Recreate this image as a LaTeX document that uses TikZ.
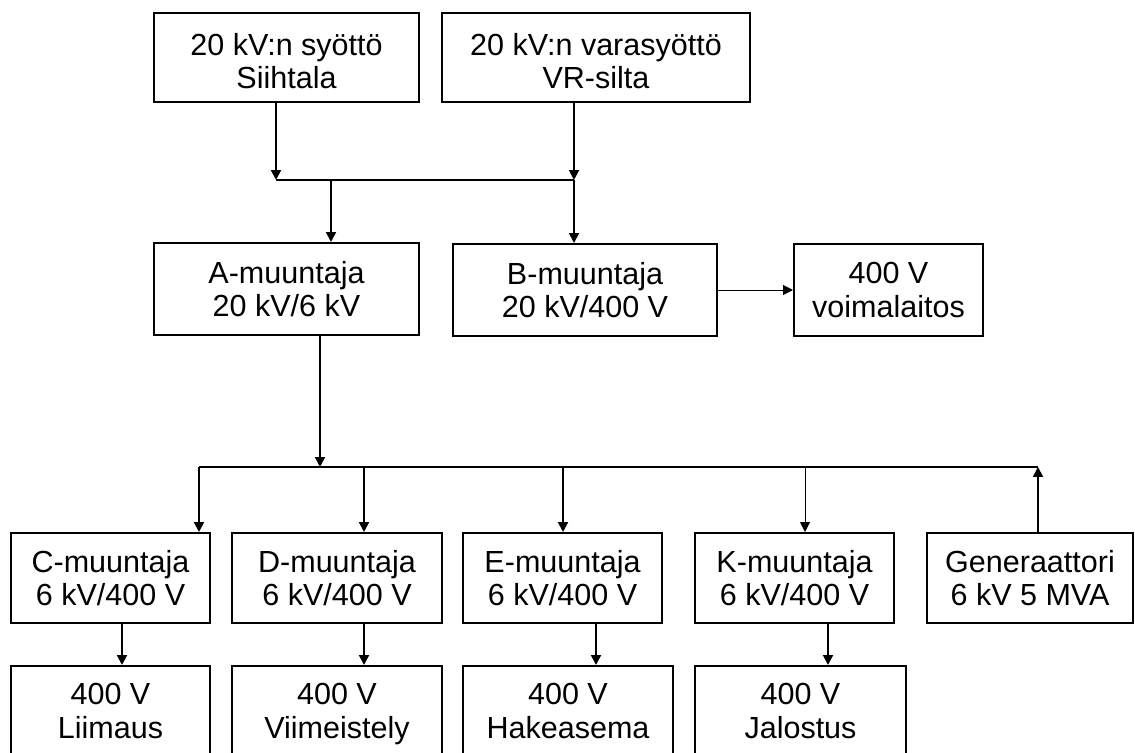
\documentclass[tikz,border=0pt]{standalone}
\usepackage{fontspec}
\setmainfont{Liberation Sans}
\usetikzlibrary{arrows.meta}

\begin{document}
\begin{tikzpicture}[x=0.025cm, y=-0.025cm,
	box/.style={shape=rectangle, draw, line width=1.4pt, minimum height=2.25cm, align=center, inner sep=0pt, font=\fontsize{21.7}{23.5}\selectfont},
	wire/.style={line width=1.4pt, -{Triangle[length=7pt,width=7pt]}},
	thinwire/.style={line width=0.7pt, -{Triangle[length=7pt,width=7pt]}},
	bus/.style={line width=1.4pt}]
	\useasboundingbox (0,0) rectangle (1135,753);
	% Syotot:
	\node[box, minimum width=6.625cm, minimum height=2.225cm] (syotto) at (286.5,57.5) {\rule{0pt}{0.75cm}20 kV:n syöttö\\Siihtala};
	\node[box, minimum width=7.7cm, minimum height=2.225cm] (vara) at (596,57.5) {\rule{0pt}{0.75cm}20 kV:n varasyöttö\\VR-silta};
	% Muuntajat 20 kV:
	\node[box, minimum width=6.625cm, minimum height=2.3cm] (amuunt) at (286.5,289) {A-muuntaja\\20 kV/6 kV};
	\node[box, minimum width=6.6cm, minimum height=2.3cm] (bmuunt) at (585,290) {B-muuntaja\\20 kV/400 V};
	\node[box, minimum width=4.725cm, minimum height=2.3cm] (voima) at (888.5,290) {400 V\\voimalaitos};
	% Muuntajat 6 kV:
	\node[box, minimum width=4.975cm] (cmuunt) at (110.5,578) {C-muuntaja\\6 kV/400 V};
	\node[box, minimum width=5.25cm] (dmuunt) at (337,578) {D-muuntaja\\6 kV/400 V};
	\node[box, minimum width=4.975cm] (emuunt) at (562.5,578) {E-muuntaja\\6 kV/400 V};
	\node[box, minimum width=4.975cm] (kmuunt) at (794.5,578) {K-muuntaja\\6 kV/400 V};
	\node[box, minimum width=5.15cm] (gen) at (1030,578) {Generaattori\\6 kV 5 MVA};
	% 400 V kuormat:
	\node[box, minimum width=4.975cm] (liimaus) at (110.5,711) {400 V\\Liimaus};
	\node[box, minimum width=5.25cm] (viim) at (337,711) {400 V\\Viimeistel\smash{y}};
	\node[box, minimum width=5.25cm] (hake) at (568,711) {400 V\\Hakeasema};
	\node[box, minimum width=5.275cm] (jalo) at (800.5,711) {400 V\\Jalostus};
	% Liitokset:
	\coordinate (j1) at (276,180);
	\coordinate (j2) at (574,180);
	\coordinate (jA) at (331,180);
	\draw[wire] (syotto.south -| j1) -- (j1);
	\draw[wire] (vara.south -| j2) -- (j2);
	\draw[bus] (j1) -- (j2);
	\draw[wire] (jA) -- (jA |- amuunt.north);
	\draw[wire] (j2) -- (j2 |- bmuunt.north);
	\draw[thinwire] (bmuunt.east) -- (voima.west);
	% 6 kV kisko:
	\coordinate (bA) at (320,467);
	\coordinate (bC) at (199,467);
	\coordinate (bD) at (364,467);
	\coordinate (bE) at (563,467);
	\coordinate (bK) at (805,467);
	\coordinate (bG) at (1038,467);
	\draw[wire] (amuunt.south -| bA) -- (bA);
	\draw[bus] (bC) -- (bG);
	\draw[wire] (bC) -- (bC |- cmuunt.north);
	\draw[wire] (bD) -- (bD |- dmuunt.north);
	\draw[wire] (bE) -- (bE |- emuunt.north);
	\draw[thinwire] (bK) -- (bK |- kmuunt.north);
	\draw[wire] (gen.north -| bG) -- (bG);
	% Alas kuormiin:
	\coordinate (dC) at (122,645);
	\coordinate (dD) at (364,645);
	\coordinate (dE) at (596,645);
	\coordinate (dK) at (828,645);
	\draw[wire] (cmuunt.south -| dC) -- (liimaus.north -| dC);
	\draw[wire] (dmuunt.south -| dD) -- (viim.north -| dD);
	\draw[wire] (emuunt.south -| dE) -- (hake.north -| dE);
	\draw[wire] (kmuunt.south -| dK) -- (jalo.north -| dK);
\end{tikzpicture}
\end{document}
